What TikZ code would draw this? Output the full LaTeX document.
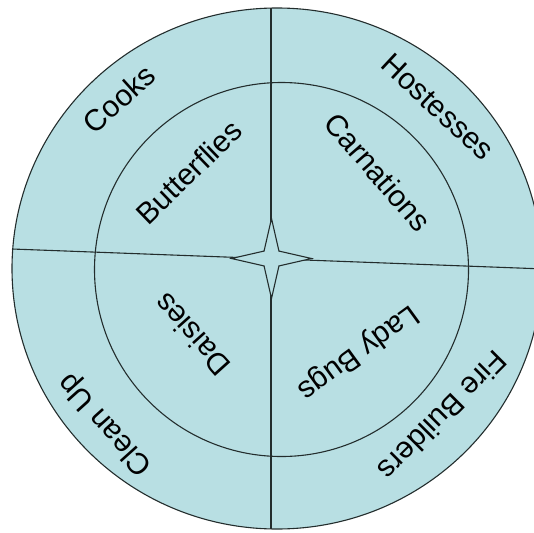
\documentclass[tikz,border=0pt]{standalone}
\usepackage{fontspec}
\setmainfont{Liberation Sans}
\usetikzlibrary{shapes.geometric}

\definecolor{ringfill}{RGB}{184,223,227}
\definecolor{ringline}{RGB}{35,45,45}

\begin{document}
\begin{tikzpicture}[x=1pt,y=-1pt,
        rim/.style={draw=ringline,line width=1.1pt},
        group/.style={font=\fontsize{30}{34}\selectfont,inner sep=0pt}]
                \clip (0,0) rectangle (534,532);

                \coordinate (outer) at (277,268.5);
                \coordinate (inner) at (281.5,269.5);
                \coordinate (north) at (271,8);
                \coordinate (south) at (271,529);
                \coordinate (west) at (12,249);
                \coordinate (east) at (542,268.9);

                \fill[ringfill] (outer) ellipse [x radius=265pt, y radius=260.5pt];
                \draw[rim] (outer) ellipse [x radius=265pt, y radius=260.5pt];
                \draw[rim] (inner) circle [radius=187pt];
                \draw[rim] (west) -- (east);
                \draw[rim] (north) -- (south);

                \node[star, star points=4, star point ratio=3.8, minimum size=80pt,
                      inner sep=0pt, fill=ringfill, rim] (hub) at (271.5,258.5) {};

                \node[group, rotate=42] (cooks) at (119,99) {Cooks};
                \node[group, rotate=-43] (hostesses) at (438,107) {Hostesses};
                \node[group, rotate=44] (butterflies) at (189,172) {Butterflies};
                \node[group, rotate=-49] (carnations) at (378,172) {Carnations};
                \node[group, rotate=132] (daisies) at (192,335) {Daisies};
                \node[group, rotate=216] (ladybugs) at (358,352) {Lady Bugs};
                \node[group, rotate=225] (firebuilders) at (443,416) {Fire Builders};
                \node[group, rotate=132] (cleanup) at (106,424) {Clean Up};
            \end{tikzpicture}
\end{document}
